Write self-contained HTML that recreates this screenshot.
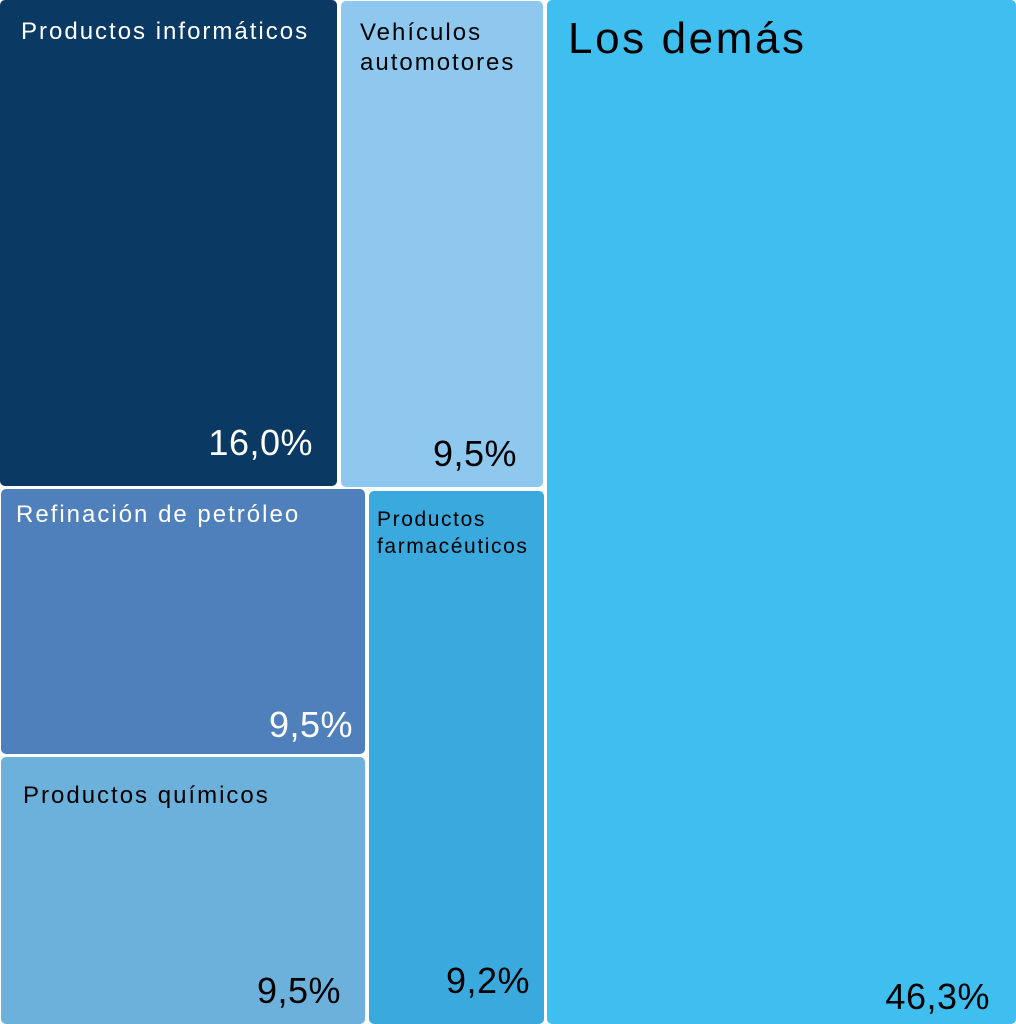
<!DOCTYPE html>
<html><head><meta charset="utf-8"><style>
body{margin:0;width:1016px;height:1024px;background:#fff;position:relative;overflow:hidden;font-family:"Liberation Sans",sans-serif}
.b{position:absolute;border-radius:5px}
.t{position:absolute;font-size:24px;letter-spacing:2px;line-height:30px;white-space:nowrap}
.p{position:absolute;font-size:36px;right:22px;bottom:18px;letter-spacing:0.5px}
</style></head><body>
<div class="b" style="left:0;top:0;width:337px;height:486px;background:#0a3a63;color:#fff">
<div class="t" style="left:21px;top:17px">Productos informáticos</div><div class="p" style="right:24px;bottom:22px">16,0%</div></div>
<div class="b" style="left:341px;top:1px;width:202px;height:486px;background:#8ec8ee;color:#000">
<div class="t" style="left:19px;top:17px">Vehículos<br>automotores</div><div class="p" style="right:26px;bottom:12px">9,5%</div></div>
<div class="b" style="left:547px;top:0;width:469px;height:1024px;background:#3ebff0;color:#000">
<div class="t" style="left:21px;top:16px;font-size:44px;line-height:46px;letter-spacing:2.6px">Los demás</div><div class="p" style="right:26px;bottom:6px">46,3%</div></div>
<div class="b" style="left:1px;top:489px;width:364px;height:265px;background:#4f80bb;color:#fff">
<div class="t" style="left:15px;top:11px">Refinación de petróleo</div><div class="p" style="right:12px;bottom:8px">9,5%</div></div>
<div class="b" style="left:1px;top:757px;width:364px;height:267px;background:#6cb1dc;color:#000">
<div class="t" style="left:22px;top:24px">Productos químicos</div><div class="p" style="right:24px;bottom:12px">9,5%</div></div>
<div class="b" style="left:369px;top:491px;width:175px;height:533px;background:#3aa9dd;color:#000">
<div class="t" style="left:8px;top:15px;font-size:21px;line-height:27px;letter-spacing:1.6px">Productos<br>farmacéuticos</div><div class="p" style="right:14px;bottom:22px">9,2%</div></div>
</body></html>
